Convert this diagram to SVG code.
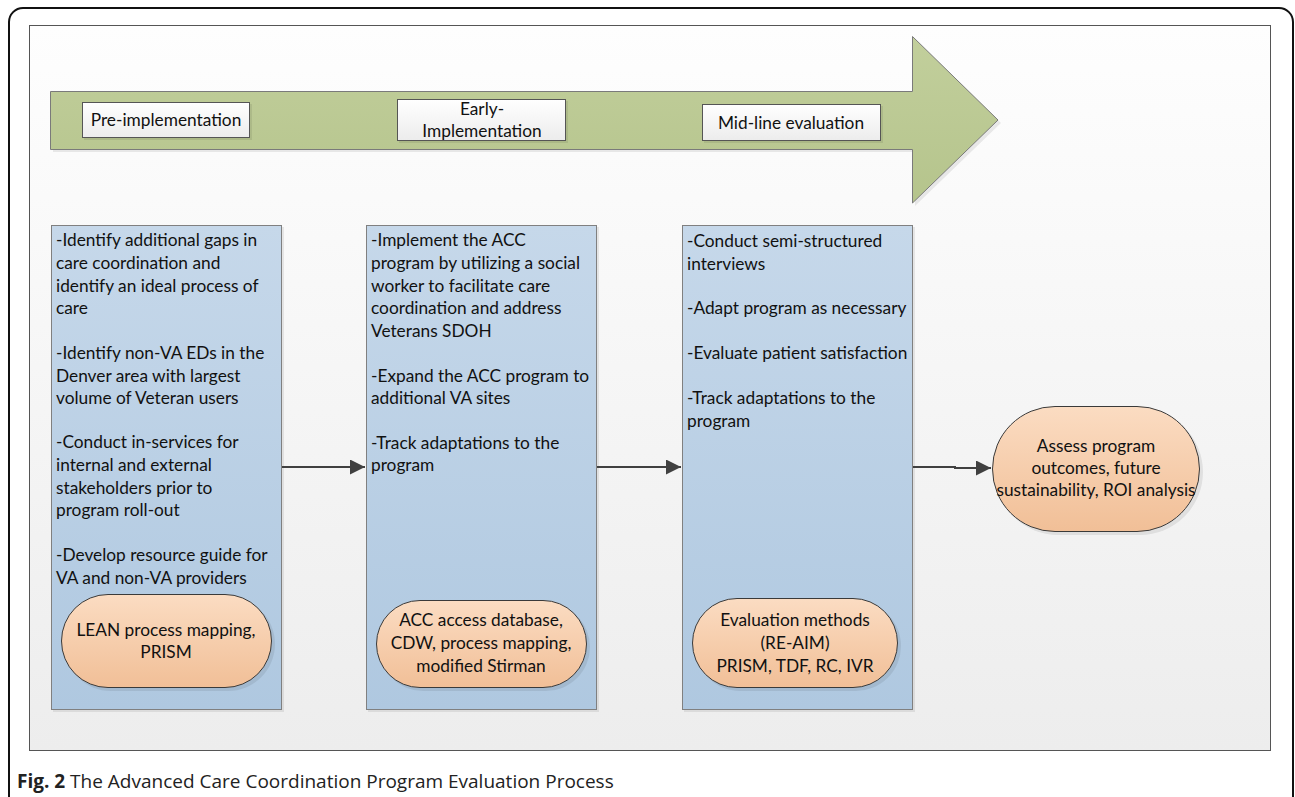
<svg xmlns="http://www.w3.org/2000/svg" width="1295" height="797" viewBox="0 0 1295 797">
<defs>
  <linearGradient id="gPanel" x1="0" y1="0" x2="0" y2="1"><stop offset="0" stop-color="#fefefe"/><stop offset="1" stop-color="#ededed"/></linearGradient>
  <linearGradient id="gGreen" x1="0" y1="0" x2="0" y2="1"><stop offset="0" stop-color="#c2cf9c"/><stop offset="1" stop-color="#b5c48c"/></linearGradient>
  <linearGradient id="gLabel" x1="0" y1="0" x2="0" y2="1"><stop offset="0" stop-color="#ffffff"/><stop offset="1" stop-color="#ececec"/></linearGradient>
  <linearGradient id="gBlue" x1="0" y1="0" x2="0" y2="1"><stop offset="0" stop-color="#c6d8ea"/><stop offset="1" stop-color="#afc8e0"/></linearGradient>
  <linearGradient id="gOrange" x1="0" y1="0" x2="0" y2="1"><stop offset="0" stop-color="#fbdcc2"/><stop offset="1" stop-color="#f1bf97"/></linearGradient>
  <marker id="arr" viewBox="0 0 10 10" refX="10" refY="5" markerWidth="7.5" markerHeight="7.5" orient="auto" markerUnits="strokeWidth">
    <path d="M0,0 L10,5 L0,10 z" fill="#404040"/>
  </marker>
  <style>
    .body{font-family:Lato,"Open Sans","Liberation Sans",sans-serif;font-size:17.3px;fill:#111}
    .mid{text-anchor:middle}
    .lbl{fill:url(#gLabel);stroke:#555;stroke-width:1}
    .blue{fill:url(#gBlue);stroke:#808080;stroke-width:1}
    .oval{fill:url(#gOrange);stroke:#3a3a3a;stroke-width:1}
    .shadow{fill:#000;opacity:0.08}
    .conn{stroke:#404040;stroke-width:2;fill:none}
  </style>
</defs>
<rect x="9" y="8" width="1284" height="830" rx="14" fill="#fff" stroke="#111" stroke-width="2"/>
<rect x="29.5" y="25.5" width="1241" height="725" fill="url(#gPanel)" stroke="#555" stroke-width="1"/>

<g id="timeline">
  <path d="M53,94 H915 V39 L1001,123 L915,206 V152 H53 Z" class="shadow"/>
  <path d="M50.5,91.5 H912.5 V36.5 L998,120 L912.5,203 V149.5 H50.5 Z" fill="url(#gGreen)" stroke="#7a7a7a" stroke-width="1"/>
</g>
<g id="phase-pre">
  <rect x="84" y="104" width="168" height="36" class="shadow"/>
  <rect x="82.5" y="102.5" width="167" height="35" class="lbl"/>
  <text x="166" y="126" class="body mid">Pre-implementation</text>
</g>
<g id="phase-early">
  <rect x="399" y="101" width="169" height="42" class="shadow"/>
  <rect x="397.5" y="99.5" width="168" height="41" class="lbl"/>
  <text class="body mid"><tspan x="482" y="115">Early-</tspan><tspan x="482" y="137">Implementation</tspan></text>
</g>
<g id="phase-mid">
  <rect x="704" y="106" width="179" height="37" class="shadow"/>
  <rect x="702.5" y="104.5" width="178" height="36" class="lbl"/>
  <text x="791" y="129" class="body mid">Mid-line evaluation</text>
</g>

<g id="stage-pre">
  <rect x="53" y="227" width="231" height="485" class="shadow"/>
  <rect x="51.5" y="225.5" width="230" height="484" class="blue"/>
  <text class="body">
    <tspan x="56" y="246">-Identify additional gaps in</tspan>
    <tspan x="56" y="269">care coordination and</tspan>
    <tspan x="56" y="292">identify an ideal process of</tspan>
    <tspan x="56" y="314">care</tspan>
    <tspan x="56" y="359">-Identify non-VA EDs in the</tspan>
    <tspan x="56" y="382">Denver area with largest</tspan>
    <tspan x="56" y="404">volume of Veteran users</tspan>
    <tspan x="56" y="448">-Conduct in-services for</tspan>
    <tspan x="56" y="471">internal and external</tspan>
    <tspan x="56" y="494">stakeholders prior to</tspan>
    <tspan x="56" y="516">program roll-out</tspan>
    <tspan x="56" y="561">-Develop resource guide for</tspan>
    <tspan x="56" y="584">VA and non-VA providers</tspan>
  </text>
</g>
<g id="method-pre">
  <rect x="64" y="597" width="211" height="94" rx="47" class="shadow"/>
  <rect x="61.5" y="594.5" width="210" height="93" rx="46.5" class="oval"/>
  <text class="body mid"><tspan x="166" y="636">LEAN process mapping,</tspan><tspan x="166" y="658">PRISM</tspan></text>
</g>

<g id="stage-early">
  <rect x="368" y="227" width="231" height="485" class="shadow"/>
  <rect x="366.5" y="225.5" width="230" height="484" class="blue"/>
  <text class="body">
    <tspan x="371" y="246">-Implement the ACC</tspan>
    <tspan x="371" y="269">program by utilizing a social</tspan>
    <tspan x="371" y="292">worker to facilitate care</tspan>
    <tspan x="371" y="314">coordination and address</tspan>
    <tspan x="371" y="337">Veterans SDOH</tspan>
    <tspan x="371" y="382">-Expand the ACC program to</tspan>
    <tspan x="371" y="404">additional VA sites</tspan>
    <tspan x="371" y="449">-Track adaptations to the</tspan>
    <tspan x="371" y="471">program</tspan>
  </text>
</g>
<g id="method-early">
  <rect x="379" y="603" width="211" height="88" rx="44" class="shadow"/>
  <rect x="376.5" y="600.5" width="210" height="87" rx="43.5" class="oval"/>
  <text class="body mid"><tspan x="481" y="626">ACC access database,</tspan><tspan x="481" y="649">CDW, process mapping,</tspan><tspan x="481" y="672">modified Stirman</tspan></text>
</g>

<g id="stage-mid">
  <rect x="684" y="227" width="231" height="485" class="shadow"/>
  <rect x="682.5" y="225.5" width="230" height="484" class="blue"/>
  <text class="body">
    <tspan x="687" y="247">-Conduct semi-structured</tspan>
    <tspan x="687" y="270">interviews</tspan>
    <tspan x="687" y="314">-Adapt program as necessary</tspan>
    <tspan x="687" y="359">-Evaluate patient satisfaction</tspan>
    <tspan x="687" y="404">-Track adaptations to the</tspan>
    <tspan x="687" y="427">program</tspan>
  </text>
</g>
<g id="method-mid">
  <rect x="695" y="601" width="206" height="90" rx="45" class="shadow"/>
  <rect x="692.5" y="598.5" width="205" height="89" rx="44.5" class="oval"/>
  <text class="body mid"><tspan x="795" y="626">Evaluation methods</tspan><tspan x="795" y="649">(RE-AIM)</tspan><tspan x="795" y="672">PRISM, TDF, RC, IVR</tspan></text>
</g>

<g id="outcome">
  <rect x="995" y="409" width="208" height="126" rx="63" class="shadow"/>
  <rect x="992.5" y="406.5" width="207" height="125" rx="62.5" class="oval"/>
  <text class="body mid"><tspan x="1096" y="452">Assess program</tspan><tspan x="1096" y="474">outcomes, future</tspan><tspan x="1096" y="496">sustainability, ROI analysis</tspan></text>
</g>

<g id="connectors">
  <line x1="282" y1="467" x2="365" y2="467" class="conn" marker-end="url(#arr)"/>
  <line x1="597" y1="467" x2="681" y2="467" class="conn" marker-end="url(#arr)"/>
  <path d="M913,467 H955 V468 H991" class="conn" marker-end="url(#arr)"/>
</g>

<text x="17" y="788" style="font-family:'Open Sans','Liberation Sans',sans-serif;font-size:19px;fill:#222"><tspan font-weight="bold">Fig. 2</tspan> The Advanced Care Coordination Program Evaluation Process</text>
</svg>
